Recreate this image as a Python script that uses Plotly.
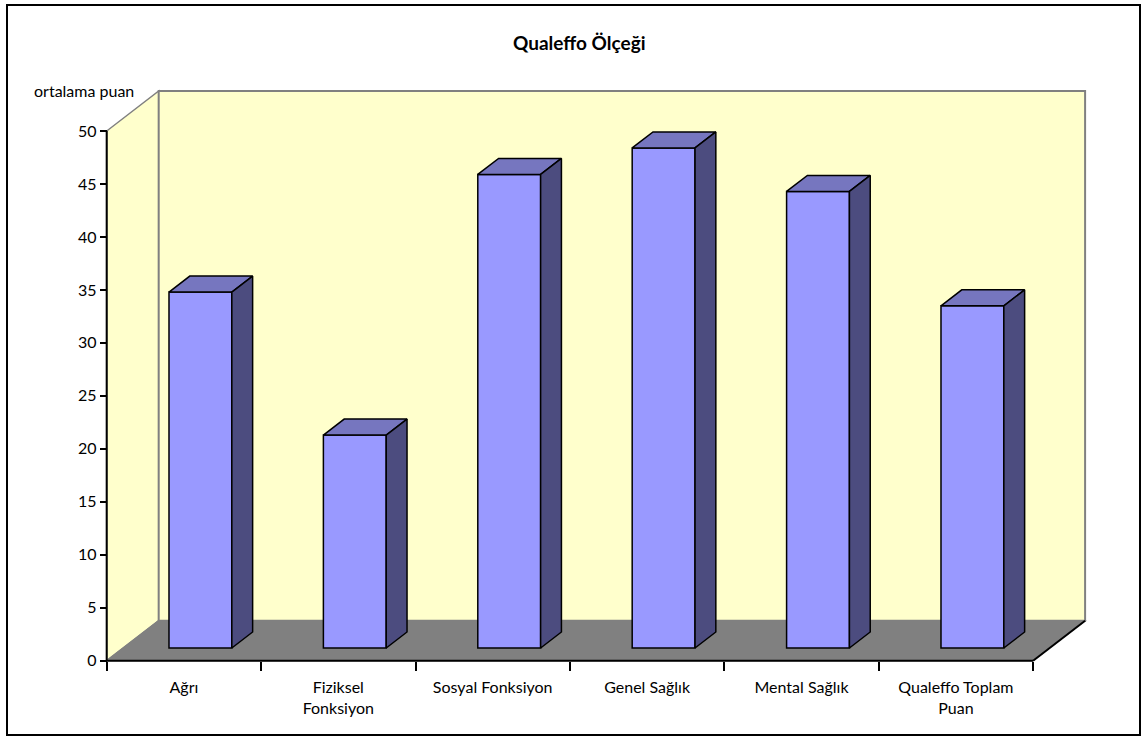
import plotly.graph_objects as go

# Qualeffo subscale means
categories = ["Ağrı", "Fiziksel<br>Fonksiyon", "Sosyal Fonksiyon", "Genel Sağlık",
              "Mental Sağlık", "Qualeffo Toplam<br>Puan"]
values = [33.6, 20.1, 44.7, 47.2, 43.1, 32.3]
y_ticks = [0, 5, 10, 15, 20, 25, 30, 35, 40, 45, 50]
y_max = 50

# page / plot-area geometry (pixels)
W, H = 1148, 737
ML, MR, MT, MB = 103, 58, 86, 72
FRONT_LEFT_PX = 106.7      # where the front vertical axis sits
FRONT_BOTTOM_PX = 660.7    # where the front floor edge sits
CAT_PX = 154.4             # pixels per category
UNIT_PX = 10.594           # pixels per score point
DEPTH_PX = (52.0, 40.0)    # 3-D depth offset of the back wall

plot_w = W - ML - MR
plot_h = H - MT - MB
x0 = -0.5 - (FRONT_LEFT_PX - ML) / CAT_PX
x1 = x0 + plot_w / CAT_PX
y0 = -((H - MB) - FRONT_BOTTOM_PX) / UNIT_PX
y1 = y0 + plot_h / UNIT_PX

DX = DEPTH_PX[0] / CAT_PX
DY = DEPTH_PX[1] / UNIT_PX
BAR_FRONT = 0.3175   # depth fraction of the bar front faces
BAR_DEPTH = 0.40     # depth fraction taken by each bar
BAR_W = 0.407

n = len(categories)
left, right = -0.5, n - 0.5

WALL = "#FFFFCC"
FLOOR = "#808080"
EDGE = "#808080"
FRONT_COL = "#9999FF"
TOP_COL = "#7676BF"
SIDE_COL = "#4C4C7F"

fig = go.Figure()

shapes = []
# left side wall
shapes.append(dict(type="path", xref="x", yref="y", layer="below",
                   path=f"M{left},0 L{left},{y_max} L{left+DX},{y_max+DY} L{left+DX},{DY} Z",
                   fillcolor=WALL, line=dict(color=EDGE, width=1.5)))
# back wall
shapes.append(dict(type="rect", xref="x", yref="y", layer="below",
                   x0=left + DX, x1=right + DX, y0=DY, y1=y_max + DY,
                   fillcolor=WALL, line=dict(color=EDGE, width=2)))
# floor
shapes.append(dict(type="path", xref="x", yref="y", layer="below",
                   path=f"M{left},0 L{right},0 L{right+DX},{DY} L{left+DX},{DY} Z",
                   fillcolor=FLOOR, line=dict(color=EDGE, width=1.2)))
# front edges of the floor and the vertical value axis
for (xa, ya, xb, yb) in [(left, 0, right, 0), (right, 0, right + DX, DY), (left, 0, left, y_max)]:
    shapes.append(dict(type="line", xref="x", yref="y", layer="below",
                       x0=xa, y0=ya, x1=xb, y1=yb, line=dict(color="black", width=2)))

# front faces of the columns
xs = [i + BAR_FRONT * DX for i in range(n)]
base = BAR_FRONT * DY
fig.add_trace(go.Bar(x=xs, y=values, base=[base] * n, width=BAR_W,
                     marker=dict(color=FRONT_COL, line=dict(color="black", width=1.5)),
                     hoverinfo="skip", showlegend=False))

# top and side faces
sdx, sdy = BAR_DEPTH * DX, BAR_DEPTH * DY
for xc, v in zip(xs, values):
    xl, xr = xc - BAR_W / 2, xc + BAR_W / 2
    top = v + base
    fig.add_trace(go.Scatter(
        x=[xl, xr, xr + sdx, xl + sdx, xl], y=[top, top, top + sdy, top + sdy, top],
        mode="lines", fill="toself", fillcolor=TOP_COL,
        line=dict(color="black", width=1.5), hoverinfo="skip", showlegend=False))
    fig.add_trace(go.Scatter(
        x=[xr, xr, xr + sdx, xr + sdx, xr], y=[base, top, top + sdy, base + sdy, base],
        mode="lines", fill="toself", fillcolor=SIDE_COL,
        line=dict(color="black", width=1.5), hoverinfo="skip", showlegend=False))

# outer chart border
shapes.append(dict(type="rect", xref="paper", yref="paper", layer="above",
                   x0=(7 - ML) / plot_w, x1=(1140 - ML) / plot_w,
                   y0=-(735 - (H - MB)) / plot_h, y1=1 + (MT - 5) / plot_h,
                   line=dict(color="black", width=2), fillcolor="rgba(0,0,0,0)"))

font_family = "Lato, 'Open Sans', sans-serif"

fig.update_layout(
    width=W, height=H,
    margin=dict(l=ML, r=MR, t=MT, b=MB, pad=0),
    paper_bgcolor="white", plot_bgcolor="rgba(0,0,0,0)",
    font=dict(family=font_family, size=16, color="black"),
    shapes=shapes,
    showlegend=False,
    xaxis=dict(range=[x0, x1], anchor="free", position=((H - MB) - FRONT_BOTTOM_PX) / plot_h,
               tickmode="array", tickvals=list(range(n)), ticktext=categories,
               ticks="outside", ticklen=12, tickcolor="rgba(0,0,0,0)",
               minor=dict(tickmode="array", tickvals=[i - 0.5 for i in range(n + 1)],
                          ticks="outside", ticklen=9, tickwidth=1.5, tickcolor="black"),
               showgrid=False, zeroline=False, showline=False,
               tickfont=dict(size=16, color="black")),
    yaxis=dict(range=[y0, y1], anchor="free", position=(FRONT_LEFT_PX - ML) / plot_w,
               tickmode="array", tickvals=y_ticks,
               ticks="outside", ticklen=7, tickwidth=1.5, tickcolor="black",
               showgrid=False, zeroline=False, showline=False,
               tickfont=dict(size=16, color="black")),
    annotations=[
        dict(text="<b>Qualeffo Ölçeği</b>", xref="paper", yref="paper",
             x=(579 - ML) / plot_w, y=1 + (MT - 42) / plot_h,
             xanchor="center", yanchor="middle", showarrow=False,
             font=dict(size=19, color="black")),
        dict(text="ortalama puan", xref="paper", yref="paper",
             x=(84 - ML) / plot_w, y=1 + (MT - 91) / plot_h,
             xanchor="center", yanchor="middle", showarrow=False,
             font=dict(size=16, color="black")),
    ],
)

fig.write_html("out.html")
